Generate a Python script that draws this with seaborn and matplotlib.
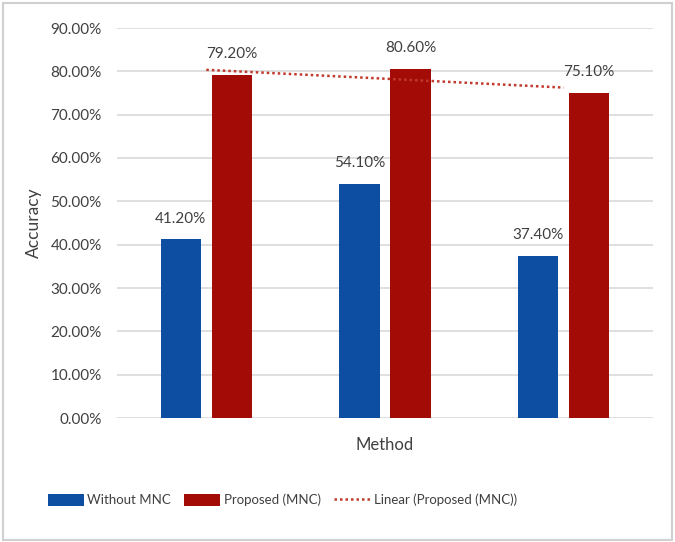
import numpy as np
import pandas as pd
import matplotlib
matplotlib.use("Agg")
import matplotlib.pyplot as plt
import seaborn as sns
from matplotlib.patches import Patch, FancyBboxPatch
from matplotlib.lines import Line2D
from matplotlib.ticker import FuncFormatter

categories = ["Method A", "Method B", "Method C"]
series_names = ["Without MNC", "Proposed (MNC)"]
without_mnc = [41.2, 54.1, 37.4]
proposed_mnc = [79.2, 80.6, 75.1]
trend_label = "Linear (Proposed (MNC))"

blue = "#0D4EA3"
red = "#A30B07"
text_col = "#404040"

df = pd.DataFrame({
    "Method": categories * 2,
    "Series": [series_names[0]] * 3 + [series_names[1]] * 3,
    "Accuracy": without_mnc + proposed_mnc,
})

sns.set_theme(style="white")
plt.rcParams['font.family'] = ['Lato', 'DejaVu Sans']

fig = plt.figure(figsize=(6.75, 5.42), dpi=100)
ax = fig.add_axes([117 / 675, 1 - 418 / 542, (653 - 117) / 675, (418 - 28) / 542])

sns.barplot(data=df, x="Method", y="Accuracy", hue="Series",
            palette=[blue, red], width=0.57, gap=0.21, ax=ax,
            legend=False, saturation=1, edgecolor="none", zorder=3)

# trend line (linear fit on proposed)
xs = np.arange(len(proposed_mnc))
coef = np.polyfit(xs, proposed_mnc, 1)
ax.plot(xs, np.polyval(coef, xs), linestyle=(0, (1, 1.2)), color="#C0392B",
        linewidth=1.8, zorder=4)

# value labels
for cont in ax.containers:
    ax.bar_label(cont, labels=[f"{v:.2f}%" for v in cont.datavalues],
                 padding=10, fontsize=11, color=text_col)

ax.set_ylim(0, 90)
ax.set_xlim(-0.5, 2.5)
ax.set_yticks(np.arange(0, 91, 10))
ax.yaxis.set_major_formatter(FuncFormatter(lambda v, p: f"{v:.2f}%"))
ax.tick_params(axis='y', labelsize=11, labelcolor=text_col, length=0, pad=11)
ax.set_xticks(range(3))
ax.set_xticklabels([])
ax.tick_params(axis='x', length=0)
ax.grid(axis='y', color="#D9D9D9", linewidth=1.2, zorder=0)
ax.set_axisbelow(True)
for s in ax.spines.values():
    s.set_visible(False)

ax.set_ylabel("Accuracy", fontsize=12.5, color=text_col, labelpad=6)
ax.set_xlabel("Method", fontsize=12, color=text_col, labelpad=10)

handles = [Patch(facecolor=blue, edgecolor="none"),
           Patch(facecolor=red, edgecolor="none"),
           Line2D([0], [0], linestyle=(0, (1, 1.2)), color="#C0392B", linewidth=1.8)]
leg = fig.legend(handles, series_names + [trend_label], loc="center left",
                 bbox_to_anchor=(36 / 675, 1 - 500 / 542), ncol=3, frameon=False,
                 fontsize=9.5, handlelength=2.7, handleheight=1.0,
                 columnspacing=1.0, handletextpad=0.3)
for t in leg.get_texts():
    t.set_color(text_col)

# outer border
fig.patches.append(FancyBboxPatch((0.004, 0.004), 0.992, 0.99,
                                  boxstyle="square,pad=0", transform=fig.transFigure,
                                  fill=False, edgecolor="#D0D0D0", linewidth=1.5))

fig.savefig("out.png", dpi=100)
